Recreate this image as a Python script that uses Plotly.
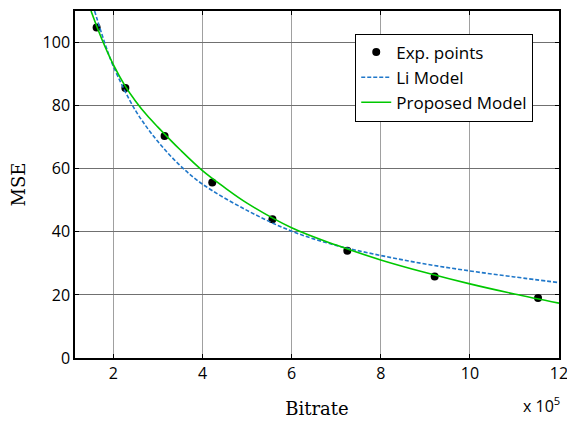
import plotly.graph_objects as go

# Experimental points (Bitrate in units of 1e5)
exp_x = [1.625, 2.27, 3.15, 4.22, 5.57, 7.25, 9.21, 11.53]
exp_y = [104.8, 85.6, 70.4, 55.6, 44.0, 34.0, 25.8, 19.0]

# Li model curve
li_x = [1.58, 1.8, 2.0, 2.5, 3.0, 3.5, 4.0, 5.0, 6.0, 7.0, 8.0, 9.0, 10.0, 11.0, 12.0]
li_y = [110, 100.2, 92.5, 78.4, 68.6, 61, 55.1, 46.8, 40.2, 35.7, 32.5, 29.8, 27.6, 25.7, 23.9]

# Proposed model curve
pm_x = [1.5, 1.75, 2.0, 2.25, 2.5, 2.75, 3.0, 3.5, 4.0, 4.5, 5.0, 6.0, 7.0, 8.0, 9.0, 10.0, 11.0, 12.0]
pm_y = [110, 100.8, 93, 86.6, 81.4, 77.0, 73.2, 66.0, 59.4, 54.0, 49.1, 41.3, 35.8, 31.1, 27.1, 23.5, 20.3, 17.4]

x_ticks = [2, 4, 6, 8, 10, 12]
y_ticks = [0, 20, 40, 60, 80, 100]

fig = go.Figure()
fig.add_trace(go.Scatter(x=exp_x, y=exp_y, mode="markers", name="Exp. points",
                         marker=dict(color="black", size=8)))
fig.add_trace(go.Scatter(x=li_x, y=li_y, mode="lines", name="Li Model",
                         line=dict(color="#1f77c9", width=1.6, dash="4px,2px", shape="spline")))
fig.add_trace(go.Scatter(x=pm_x, y=pm_y, mode="lines", name="Proposed Model",
                         line=dict(color="#00c800", width=1.6, shape="spline")))

tickfont = dict(family="Open Sans", size=16, color="black")
fig.update_layout(
    width=567, height=413,
    margin=dict(l=67, r=16, t=3, b=63),
    paper_bgcolor="white", plot_bgcolor="white",
    showlegend=True,
    legend=dict(x=0.579, y=0.935, xanchor="left", yanchor="top",
                bgcolor="white", bordercolor="black", borderwidth=1,
                font=dict(family="Open Sans", size=17, color="black"),
                tracegroupgap=0),
    xaxis=dict(range=[1.14, 12], tickvals=x_ticks, ticktext=[str(v) for v in x_ticks],
               showline=True, linecolor="black", linewidth=1.5, mirror="ticks",
               ticks="inside", ticklen=4, tickcolor="black", automargin=False,
               showgrid=True, gridcolor="#a0a0a0", gridwidth=1, zeroline=False,
               tickfont=tickfont,
               title=dict(text="Bitrate", font=dict(family="DejaVu Serif", size=18, color="black"),
                          standoff=19)),
    yaxis=dict(range=[0, 110], tickvals=y_ticks, ticktext=[str(v) for v in y_ticks],
               showline=True, linecolor="black", linewidth=1.5, mirror="ticks",
               ticks="inside", ticklen=4, tickcolor="black", automargin=False,
               showgrid=True, gridcolor="#707070", gridwidth=1, zeroline=False,
               tickfont=tickfont,
               title=dict(text="MSE", font=dict(family="DejaVu Serif", size=18, color="black"),
                          standoff=12)),
    annotations=[dict(text="x 10<sup>5</sup>", x=1.0, y=0, xref="paper", yref="paper",
                      xanchor="right", yanchor="top", yshift=-33, xshift=3, showarrow=False,
                      font=dict(family="Open Sans", size=16, color="black"))],
)

fig.write_html("out.html")
